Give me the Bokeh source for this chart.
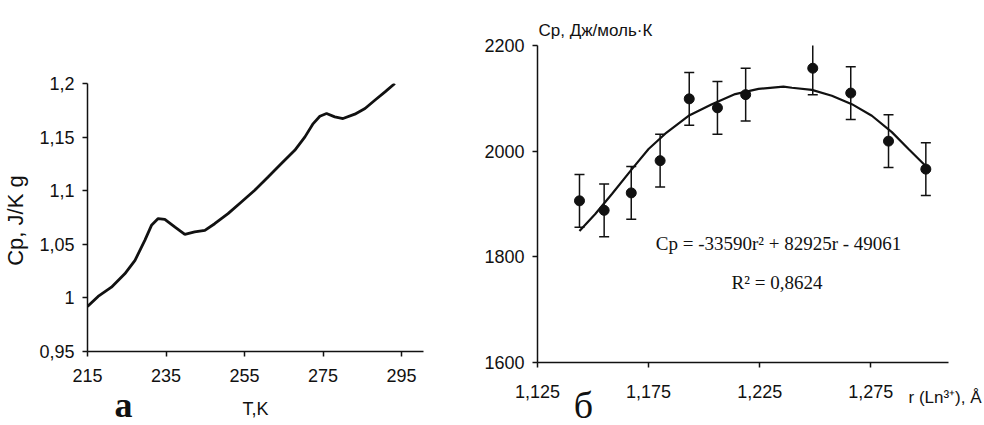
from bokeh.plotting import figure
from bokeh.layouts import row
from bokeh.models import (ColumnDataSource, FixedTicker, Range1d, Label, Title, Whisker, TeeHead)
from bokeh.embed import file_html
from bokeh.resources import INLINE

# ---------------- data: panel a ----------------
temp_K = [215, 217.7, 221.1, 224.5, 227.1, 229.6, 231.3, 233.0, 234.7, 237.3, 239.8,
          242.3, 244.9, 247.4, 250.8, 254.2, 257.6, 261.0, 264.4, 267.8, 270.4,
          272.5, 274.2, 275.9, 278.0, 280.1, 283.1, 285.7, 288.2, 290.8, 293.3]
cp_Jkg = [0.992, 1.0014, 1.010, 1.0225, 1.035, 1.0537, 1.0677, 1.074, 1.0733, 1.066, 1.0593,
          1.0615, 1.063, 1.0692, 1.0786, 1.0895, 1.1004, 1.1128, 1.1253, 1.1377, 1.1502,
          1.1626, 1.1695, 1.172, 1.1689, 1.1673, 1.1714, 1.1767, 1.1844, 1.1922, 1.2]
a_xticks = [215, 235, 255, 275, 295]
a_xlabels = ["215", "235", "255", "275", "295"]
a_yticks = [0.95, 1.0, 1.05, 1.1, 1.15, 1.2]
a_ylabels = ["0,95", "1", "1,05", "1,1", "1,15", "1,2"]

# ---------------- data: panel б ----------------
radius = [1.1439, 1.155, 1.1672, 1.1802, 1.1933, 1.206, 1.2187, 1.2489, 1.266, 1.283, 1.2998]
cp_mol = [1906, 1888, 1921, 1982, 2099, 2082, 2107, 2157, 2110, 2019, 1966]
cp_err = [50, 50, 50, 50, 50, 50, 50, 50, 50, 50, 50]
fit_r = [1.1439, 1.151, 1.1585, 1.1675, 1.175, 1.1825, 1.193, 1.2035, 1.214, 1.2245,
         1.2357, 1.2395, 1.2485, 1.2575, 1.2665, 1.2755, 1.2845, 1.292, 1.2995]
fit_cp = [1849, 1881, 1919, 1966, 2004, 2033, 2067, 2089, 2108, 2118,
          2122, 2120, 2116, 2105, 2089, 2067, 2036, 2004, 1973]
b_xticks = [1.125, 1.175, 1.225, 1.275]
b_xlabels = ["1,125", "1,175", "1,225", "1,275"]
b_yticks = [1600, 1800, 2000, 2200]
b_ylabels = ["1600", "1800", "2000", "2200"]

SANS = "Liberation Sans"
SERIF = "Liberation Serif"
INK = "#111111"


def style(p):
    p.outline_line_color = None
    p.xgrid.grid_line_color = None
    p.ygrid.grid_line_color = None
    p.background_fill_color = "white"
    p.border_fill_color = "white"
    for ax in (p.xaxis[0], p.yaxis[0]):
        ax.axis_line_color = INK
        ax.axis_line_width = 1.5
        ax.major_tick_line_color = INK
        ax.major_tick_line_width = 1.5
        ax.major_tick_in = 0
        ax.major_tick_out = 5
        ax.minor_tick_line_color = None
        ax.major_label_text_font = SANS
        ax.major_label_text_font_size = "18px"
        ax.major_label_text_color = INK
        ax.axis_label_text_font = SANS
        ax.axis_label_text_font_style = "normal"
        ax.axis_label_text_color = INK


# ---------------- panel a ----------------
pa = figure(frame_width=336, frame_height=268, output_backend="svg", toolbar_location=None,
            x_range=Range1d(215, 300.6), y_range=Range1d(0.95, 1.2), frame_align=False,
            min_border_left=86, min_border_right=48, min_border_top=83, min_border_bottom=74)
style(pa)
pa.line(temp_K, cp_Jkg, line_color=INK, line_width=2.8)
pa.xaxis.ticker = FixedTicker(ticks=a_xticks)
pa.xaxis.major_label_overrides = dict(zip(a_xticks, a_xlabels))
pa.yaxis.ticker = FixedTicker(ticks=a_yticks)
pa.yaxis.major_label_overrides = dict(zip(a_yticks, a_ylabels))
pa.xaxis.major_label_standoff = 12
pa.yaxis.major_label_standoff = 8
pa.xaxis.axis_label = "T,K"
pa.xaxis.axis_label_text_font_size = "18px"
pa.xaxis.axis_label_standoff = 14
pa.yaxis.axis_label = "Cp, J/K  g"
pa.yaxis.axis_label_text_font_size = "22px"
pa.yaxis.axis_label_standoff = 8
pa.add_layout(Label(x=36, y=37, x_units="screen", y_units="screen", text="а",
                    text_font=SERIF, text_font_style="bold", text_font_size="36px",
                    text_align="center", text_baseline="bottom", text_color=INK), "below")

# ---------------- panel б ----------------
pb = figure(frame_width=411, frame_height=317, output_backend="svg", toolbar_location=None,
            x_range=Range1d(1.125, 1.310), y_range=Range1d(1600, 2200), frame_align=False,
            min_border_left=66, min_border_right=37, min_border_top=45, min_border_bottom=63)
style(pb)
pb.line(fit_r, fit_cp, line_color=INK, line_width=2.2)
upper = [v + e for v, e in zip(cp_mol, cp_err)]
lower = [v - e for v, e in zip(cp_mol, cp_err)]
src = ColumnDataSource(dict(r=radius, cp=cp_mol, upper=upper, lower=lower))
pb.add_layout(Whisker(source=src, base="r", upper="upper", lower="lower",
                      line_color=INK, line_width=1.5,
                      upper_head=TeeHead(size=10, line_color=INK, line_width=1.5),
                      lower_head=TeeHead(size=10, line_color=INK, line_width=1.5)))
pb.scatter("r", "cp", source=src, size=10, fill_color=INK, line_color=INK)
pb.xaxis.ticker = FixedTicker(ticks=b_xticks)
pb.xaxis.major_label_overrides = dict(zip(b_xticks, b_xlabels))
pb.yaxis.ticker = FixedTicker(ticks=b_yticks)
pb.yaxis.major_label_overrides = dict(zip(b_yticks, b_ylabels))
pb.xaxis.major_label_standoff = 17
pb.yaxis.major_label_standoff = 8

pb.add_layout(Label(x=1.2335, y=1825, text="Cp = -33590r² + 82925r - 49061",
                    text_font=SERIF, text_font_size="19px", text_align="center",
                    text_baseline="middle", text_color=INK))
pb.add_layout(Label(x=1.2328, y=1751, text="R² = 0,8624",
                    text_font=SERIF, text_font_size="19px", text_align="center",
                    text_baseline="middle", text_color=INK))
pb.add_layout(Title(text="Cp, Дж/моль·К", align="left", offset=1, standoff=12,
                    text_font=SANS, text_font_size="17px", text_font_style="normal",
                    text_color=INK), "above")
pb.add_layout(Label(x=371, y=13, x_units="screen", y_units="screen", text="r (Ln³⁺), Å",
                    text_font=SANS, text_font_size="17px", text_align="left",
                    text_baseline="bottom", text_color=INK), "below")
pb.add_layout(Label(x=46, y=36, x_units="screen", y_units="screen", text="б",
                    text_font=SERIF, text_font_size="38px", text_align="center",
                    text_baseline="bottom", text_color=INK), "below")

layout = row(pa, pb)
open("out.html", "w").write(file_html(layout, INLINE))
